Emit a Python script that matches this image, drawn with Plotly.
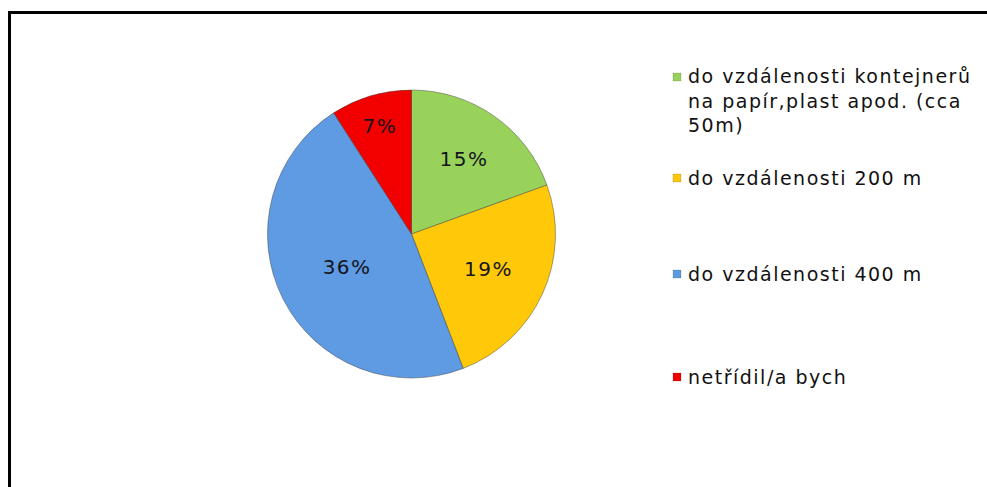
import plotly.graph_objects as go

# Survey answers: how far people would walk to sort their waste
categories = [
    "do vzdálenosti kontejnerů<br>na papír,plast apod. (cca<br>50m)",
    "do vzdálenosti 200 m",
    "do vzdálenosti 400 m",
    "netřídil/a bych",
]
values = [15, 19, 36, 7]
colors = ["#98D25A", "#FFC90A", "#5E9BE2", "#F20000"]

W, H = 987, 487
FONT = "DejaVu Sans, Arial, sans-serif"

fig = go.Figure()

fig.add_trace(go.Pie(
    labels=categories,
    values=values,
    text=[f"{v}%" for v in values],
    textinfo="text",
    textposition="inside",
    insidetextorientation="horizontal",
    textfont=dict(family=FONT, size=20, color="#151520"),
    marker=dict(colors=colors, line=dict(color="rgba(60,60,60,0.45)", width=1)),
    sort=False,
    direction="clockwise",
    rotation=0,
    showlegend=False,
    hoverinfo="label+text",
    domain=dict(x=[(411.5 - 144) / W, (411.5 + 144) / W],
                y=[(H - 234 - 144) / H, (H - 234 + 144) / H]),
))

# Hand-placed legend: colored square + label for each category
legend_rows = [77, 178, 274, 377]   # pixel centre of each entry's first line
legend_font = dict(family=FONT, size=19, color="#111111")
line_h = 25
shapes = []
annotations = []
for lab, col, yc in zip(categories, colors, legend_rows):
    shapes.append(dict(
        type="rect", xref="paper", yref="paper",
        x0=673 / W, x1=681 / W, y0=(H - yc - 4) / H, y1=(H - yc + 4) / H,
        fillcolor=col, line=dict(color="rgba(0,0,0,0.25)", width=0.5),
    ))
    annotations.append(dict(
        text=lab, xref="paper", yref="paper",
        x=686 / W, y=(H - yc + line_h / 2 + 1) / H,
        xanchor="left", yanchor="top", align="left",
        showarrow=False, font=legend_font,
    ))

# Chart frame: top and left edges, running off the canvas
frame_x = 9.5 / W
frame_y = (H - 12.5) / H
shapes.append(dict(type="line", xref="paper", yref="paper",
                   x0=frame_x, x1=frame_x, y0=-0.1, y1=frame_y,
                   line=dict(color="black", width=3)))
shapes.append(dict(type="line", xref="paper", yref="paper",
                   x0=frame_x - 1.5 / W, x1=1.1, y0=frame_y, y1=frame_y,
                   line=dict(color="black", width=3)))

fig.update_layout(
    width=W, height=H,
    margin=dict(l=0, r=0, t=0, b=0),
    paper_bgcolor="white",
    plot_bgcolor="white",
    shapes=shapes,
    annotations=annotations,
)

# Slightly wider tracking for the labels, then redraw so text boxes are re-measured
post = (
    "var s=document.createElement('style');"
    "s.textContent='.annotation-text{letter-spacing:1.5px}.slicetext{letter-spacing:1.5px}';"
    "document.head.appendChild(s);"
    "var gd=document.getElementById('{plot_id}');"
    "Plotly.newPlot(gd, gd.data, gd.layout, {displayModeBar:false});"
)

fig.write_html("out.html", post_script=post, config={"displayModeBar": False})
